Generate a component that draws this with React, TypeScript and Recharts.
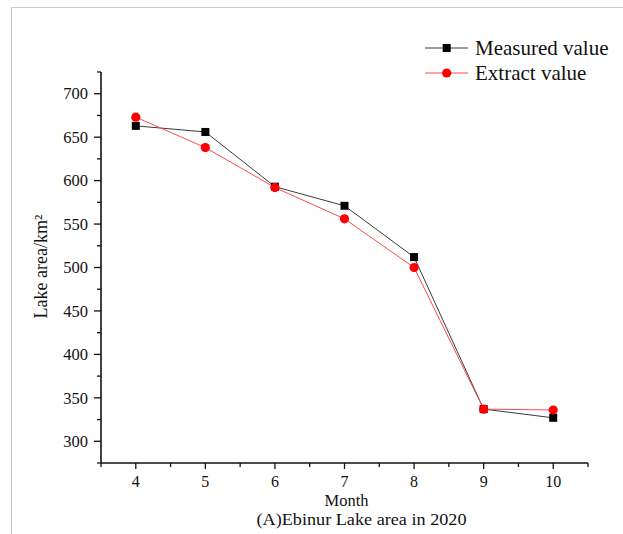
import React from 'react';
import { LineChart, Line, XAxis, YAxis, Legend, Label } from 'recharts';

const months = [4, 5, 6, 7, 8, 9, 10];
const measuredValues = [663, 656, 593, 571, 512, 337, 327];
const extractValues = [673, 638, 592, 556, 500, 337, 336];
const xTicks = [3.5, 4, 4.5, 5, 5.5, 6, 6.5, 7, 7.5, 8, 8.5, 9, 9.5, 10, 10.5];
const yTicks = [275, 300, 325, 350, 375, 400, 425, 450, 475, 500, 525, 550, 575, 600, 625, 650, 675, 700, 725];
const yMajorTicks = [300, 350, 400, 450, 500, 550, 600, 650, 700];
const seriesNames = ['Measured value', 'Extract value'];
const xAxisTitle = 'Month';
const captionText = '(A)Ebinur Lake area in 2020';
const yAxisTitle = 'Lake area/km²';

const data = months.map((m, i) => ({ month: m, measured: measuredValues[i], extract: extractValues[i] }));

const FONT = '"Liberation Serif", "Times New Roman", serif';
const AXIS = '#111';
const BLACK_LINE = '#3a3a3a';
const RED_LINE = '#ff4a4a';
const RED = '#ff0000';

function XTick(props: any) {
  const { x, y, payload } = props;
  const v = payload.value;
  const major = Number.isInteger(v);
  return (
    <g>
      <line x1={x} x2={x} y1={y} y2={y + (major ? 6 : 4)} stroke={AXIS} strokeWidth={1.3} />
      {major && (
        <text x={x} y={y + 24} textAnchor="middle" fontFamily={FONT} fontSize={16} fill="#111">
          {v}
        </text>
      )}
    </g>
  );
}

function YTick(props: any) {
  const { x, y, payload } = props;
  const v = payload.value;
  const major = yMajorTicks.includes(v);
  return (
    <g>
      <line x1={x} x2={x - (major ? 7 : 4)} y1={y} y2={y} stroke={AXIS} strokeWidth={1.3} />
      {major && (
        <text x={x - 13} y={y} dy="0.35em" textAnchor="end" fontFamily={FONT} fontSize={16.5} fill="#111">
          {v}
        </text>
      )}
    </g>
  );
}

const SquareDot = (props: any) => {
  const { cx, cy, index } = props;
  if (cx == null || cy == null) return <g key={`sq-${index}`} />;
  return <rect key={`sq-${index}`} x={cx - 4} y={cy - 4} width={8} height={8} fill="#000" />;
};

const CircleDot = (props: any) => {
  const { cx, cy, index } = props;
  if (cx == null || cy == null) return <g key={`ci-${index}`} />;
  return <circle key={`ci-${index}`} cx={cx} cy={cy} r={4.6} fill={RED} />;
};

const renderLegend = () => (
  <svg width={200} height={56} style={{ display: 'block', overflow: 'visible' }}>
    {seriesNames.map((name, i) => {
      const cy = 15 + 25 * i;
      return (
        <g key={name}>
          <line x1={5} x2={48} y1={cy} y2={cy} stroke={i === 0 ? BLACK_LINE : RED_LINE} strokeWidth={1} />
          {i === 0 ? (
            <rect x={22.7} y={cy - 4} width={8} height={8} fill="#000" />
          ) : (
            <circle cx={26.7} cy={cy} r={4.6} fill={RED} />
          )}
          <text x={55} y={cy + 7} fontFamily={FONT} fontSize={21} fill="#111">
            {name}
          </text>
        </g>
      );
    })}
  </svg>
);

export default function App() {
  return (
    <div style={{ position: 'absolute', left: 0, top: 0, width: 623, height: 534, background: '#fff', overflow: 'hidden' }}>
      <div
        style={{
          position: 'absolute',
          left: 11,
          top: 7,
          width: 623,
          height: 540,
          borderTop: '1px solid #c8c8c8',
          borderLeft: '1px solid #c8c8c8',
        }}
      />
      <div style={{ position: 'absolute', left: 0, top: 0 }}>
        <LineChart width={623} height={534} data={data} margin={{ top: 72, right: 35, bottom: 0, left: 0 }}>
          <XAxis
            dataKey="month"
            type="number"
            domain={[3.5, 10.5]}
            ticks={xTicks}
            interval={0}
            allowDataOverflow
            tickSize={0}
            tickMargin={0}
            tickLine={false}
            axisLine={{ stroke: AXIS, strokeWidth: 1.6 }}
            height={71}
            tick={<XTick />}
          >
            <Label
              content={(p: any) => {
                const vb = p.viewBox || { x: 101, y: 463, width: 487 };
                const cx = vb.x + vb.width / 2;
                return (
                  <g>
                    <text x={cx + 2} y={vb.y + 43} textAnchor="middle" fontFamily={FONT} fontSize={16.5} fill="#111">
                      {xAxisTitle}
                    </text>
                    <text
                      x={cx + 17}
                      y={vb.y + 62}
                      textAnchor="middle"
                      fontFamily={FONT}
                      fontSize={16.5}
                      textLength={210}
                      lengthAdjust="spacingAndGlyphs"
                      fill="#111"
                    >
                      {captionText}
                    </text>
                  </g>
                );
              }}
            />
          </XAxis>
          <YAxis
            type="number"
            domain={[275, 725]}
            ticks={yTicks}
            interval={0}
            allowDataOverflow
            width={101}
            tickSize={0}
            tickMargin={0}
            tickLine={false}
            axisLine={{ stroke: AXIS, strokeWidth: 1.6 }}
            tick={<YTick />}
          >
            <Label
              content={(p: any) => {
                const vb = p.viewBox || { x: 0, y: 72, width: 101, height: 391 };
                const cy = vb.y + vb.height / 2 - 1;
                const x = 47;
                return (
                  <text
                    x={x}
                    y={cy}
                    transform={`rotate(-90 ${x} ${cy})`}
                    textAnchor="middle"
                    fontFamily={FONT}
                    fontSize={18}
                    fill="#111"
                  >
                    {yAxisTitle}
                  </text>
                );
              }}
            />
          </YAxis>
          <Legend
            layout="horizontal"
            verticalAlign="middle"
            align="center"
            wrapperStyle={{ top: 33, left: 420, width: 200, height: 56 }}
            content={renderLegend}
          />
          <Line
            dataKey="measured"
            name={seriesNames[0]}
            type="linear"
            stroke={BLACK_LINE}
            strokeWidth={1}
            dot={SquareDot}
            activeDot={false}
            isAnimationActive={false}
          />
          <Line
            dataKey="extract"
            name={seriesNames[1]}
            type="linear"
            stroke={RED_LINE}
            strokeWidth={1}
            dot={CircleDot}
            activeDot={false}
            isAnimationActive={false}
          />
        </LineChart>
      </div>
    </div>
  );
}
